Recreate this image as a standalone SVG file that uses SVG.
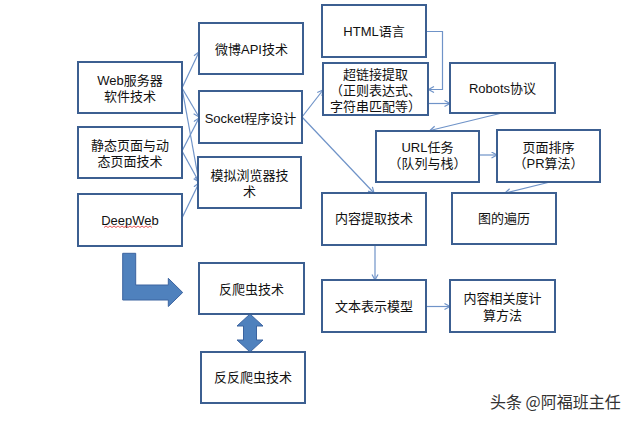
<svg xmlns="http://www.w3.org/2000/svg" width="633" height="423" viewBox="0 0 633 423">
<style>
.box{fill:#fff;stroke:#3c5f91;stroke-width:2}
.t{font-family:"Liberation Sans","Noto Sans CJK SC",sans-serif;font-size:13px;fill:#111;text-anchor:middle;dominant-baseline:central}
.c{fill:none;stroke:#6f93c8;stroke-width:1.2;marker-end:url(#ah)}
.big{fill:#4f81bd;stroke:#3c64a0;stroke-width:1}
.wm{font-family:"Noto Sans CJK SC","Liberation Sans",sans-serif;font-size:16px;fill:#333;stroke:#fff;stroke-width:0.5;paint-order:stroke}
</style>
<defs>
<marker id="ah" markerWidth="8" markerHeight="8" refX="6" refY="3.5" orient="auto" markerUnits="userSpaceOnUse">
<path d="M0.5,0.5 L6,3.5 L0.5,6.5" fill="none" stroke="#6f93c8" stroke-width="1.2"/>
</marker>
</defs>
<rect width="633" height="423" fill="#fff"/>
<g id="connectors">
<line class="c" x1="182" y1="88" x2="199" y2="52"/>
<line class="c" x1="182" y1="88" x2="199" y2="117"/>
<line class="c" x1="182" y1="88" x2="199" y2="182"/>
<line class="c" x1="182" y1="151" x2="199" y2="118"/>
<line class="c" x1="182" y1="151" x2="199" y2="182"/>
<line class="c" x1="182" y1="218" x2="199" y2="183"/>
<line class="c" x1="302" y1="117" x2="323" y2="90"/>
<line class="c" x1="302" y1="117" x2="374" y2="193"/>
<polyline class="c" points="426,31.5 442.5,31.5 442.5,89.5 428.5,89.5"/>
<line class="c" x1="428" y1="103.5" x2="450" y2="103.5"/>
<line class="c" x1="502" y1="113" x2="430" y2="130.5"/>
<line class="c" x1="479" y1="155" x2="497" y2="155"/>
<line class="c" x1="550" y1="182" x2="505" y2="193"/>
<line class="c" x1="375" y1="245" x2="375" y2="280"/>
<line class="c" x1="426" y1="306.5" x2="450" y2="306.5"/>
<path class="big" d="M122.7,253.3 L135.7,253.3 L135.7,285 L168.3,285 L168.3,278.3 L182.7,292.5 L168.3,306.5 L168.3,300 L122.7,300 Z"/>
<path class="big" d="M250,314 L263,326 L256.5,326 L256.5,340 L263,340 L250,352 L237,340 L243.5,340 L243.5,326 L237,326 Z"/>
</g>
<g id="n-web"><rect class="box" x="78" y="62" width="104" height="51"/><text class="t" x="130" y="80">Web服务器</text><text class="t" x="130" y="96.5">软件技术</text></g>
<g id="n-weibo"><rect class="box" x="199" y="23" width="104" height="51"/><text class="t" x="251.5" y="49">微博API技术</text></g>
<g id="n-socket"><rect class="box" x="199" y="91" width="103" height="52"/><text class="t" x="250.5" y="118">Socket程序设计</text></g>
<g id="n-static"><rect class="box" x="78" y="127" width="104" height="51"/><text class="t" x="130" y="145">静态页面与动</text><text class="t" x="130" y="161.5">态页面技术</text></g>
<g id="n-sim"><rect class="box" x="198" y="157" width="103" height="51"/><text class="t" x="249.5" y="175">模拟浏览器技</text><text class="t" x="249.5" y="191.5">术</text></g>
<g id="n-deep"><rect class="box" x="78" y="194" width="104" height="52"/><text class="t" x="130" y="220">DeepWeb</text><path d="M104,227.5 l2,-1.5 l2,1.5 l2,-1.5 l2,1.5 l2,-1.5 l2,1.5 l2,-1.5 l2,1.5 l2,-1.5 l2,1.5 l2,-1.5 l2,1.5 l2,-1.5 l2,1.5 l2,-1.5 l2,1.5 l2,-1.5 l2,1.5 l2,-1.5 l2,1.5 l2,-1.5 l2,1.5 l2,-1.5 l2,1.5" fill="none" stroke="#e03030" stroke-width="0.8"/></g>
<g id="n-html"><rect class="box" x="322" y="5" width="104" height="52"/><text class="t" x="374" y="31.5">HTML语言</text></g>
<g id="n-link"><rect class="box" x="323" y="63" width="105" height="52"/><text class="t" x="375.5" y="74">超链接提取</text><text class="t" x="375.5" y="90">（正则表达式、</text><text class="t" x="375.5" y="106">字符串匹配等）</text></g>
<g id="n-robots"><rect class="box" x="450" y="63" width="105" height="50"/><text class="t" x="502.5" y="88">Robots协议</text></g>
<g id="n-url"><rect class="box" x="376" y="131" width="103" height="51"/><text class="t" x="427.5" y="147">URL任务</text><text class="t" x="427.5" y="163.5">（队列与栈）</text></g>
<g id="n-rank"><rect class="box" x="497" y="130" width="103" height="52"/><text class="t" x="548.5" y="147">页面排序</text><text class="t" x="548.5" y="163.5">（PR算法）</text></g>
<g id="n-content"><rect class="box" x="322" y="193" width="104" height="52"/><text class="t" x="374" y="218.5">内容提取技术</text></g>
<g id="n-graph"><rect class="box" x="452" y="193" width="104" height="51"/><text class="t" x="504" y="218.5">图的遍历</text></g>
<g id="n-text"><rect class="box" x="322" y="280" width="104" height="52"/><text class="t" x="374" y="306">文本表示模型</text></g>
<g id="n-rel"><rect class="box" x="450" y="280" width="105" height="52"/><text class="t" x="502.5" y="298">内容相关度计</text><text class="t" x="502.5" y="315">算方法</text></g>
<g id="n-anti"><rect class="box" x="199" y="263" width="105" height="51"/><text class="t" x="251.5" y="289.5">反爬虫技术</text></g>
<g id="n-antianti"><rect class="box" x="201" y="352" width="104" height="51"/><text class="t" x="253" y="377">反反爬虫技术</text></g>
<text class="wm" x="490" y="408">头条 @阿福班主任</text>
</svg>
